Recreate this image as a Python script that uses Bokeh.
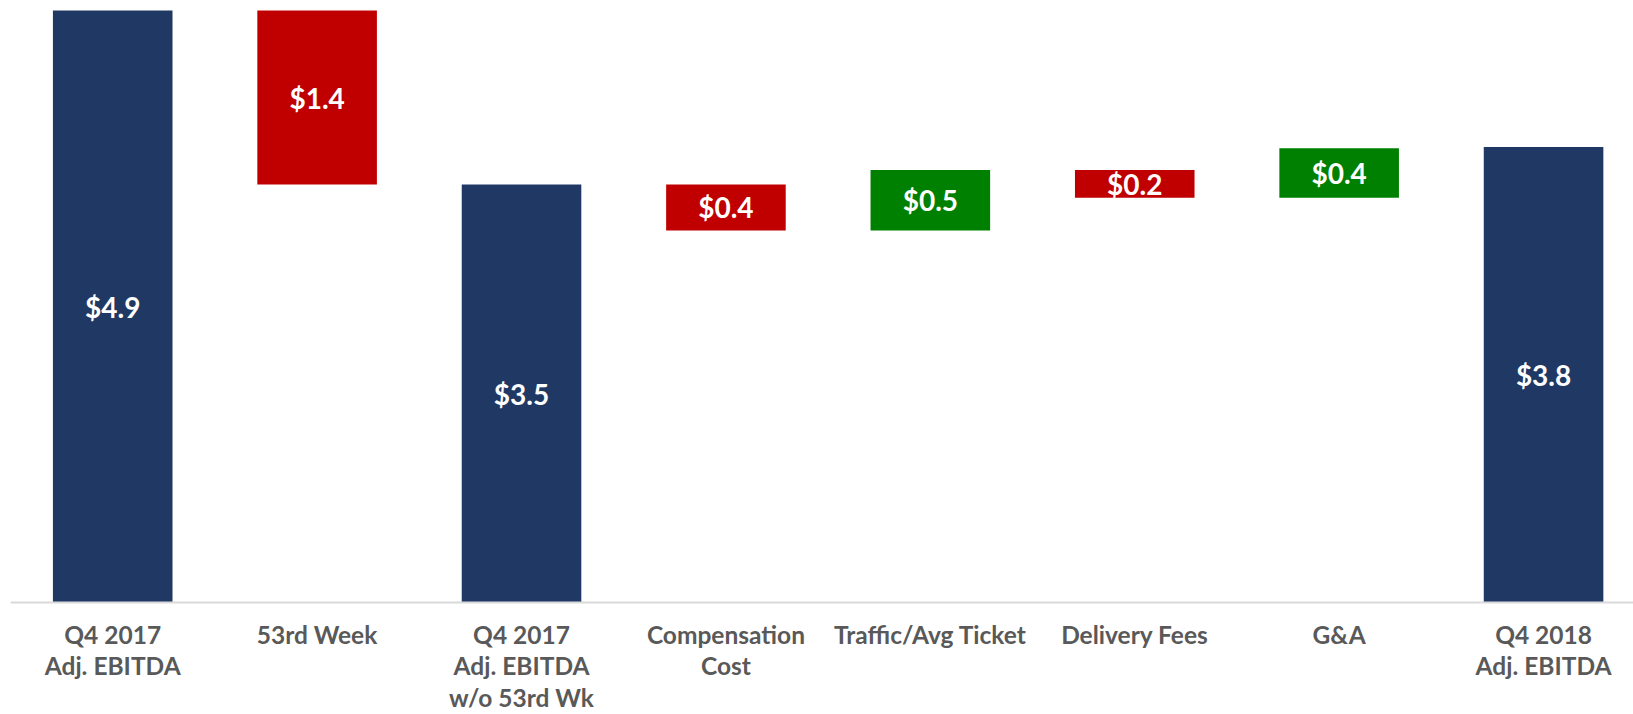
from bokeh.plotting import figure
from bokeh.models import ColumnDataSource, Range1d, Span
from bokeh.core.properties import value
from bokeh.embed import file_html
from bokeh.resources import INLINE

categories = ["Q4 2017\nAdj. EBITDA", "53rd Week", "Q4 2017\nAdj. EBITDA\nw/o 53rd Wk",
              "Compensation\nCost", "Traffic/Avg Ticket", "Delivery Fees", "G&A",
              "Q4 2018\nAdj. EBITDA"]
values = [4.9, -1.44, 3.46, -0.38, 0.50, -0.23, 0.41, 3.77]
kinds = ["total", "delta", "total", "delta", "delta", "delta", "delta", "total"]

NAVY = "#203864"
RED = "#C00000"
GREEN = "#008000"

xs, bottoms, tops, colors, labels = [], [], [], [], []
running = 0.0
for i, (v, k) in enumerate(zip(values, kinds)):
    xs.append(i + 0.5)
    if k == "total":
        bottoms.append(0.0)
        tops.append(v)
        colors.append(NAVY)
        running = v
    else:
        nxt = running + v
        bottoms.append(min(running, nxt))
        tops.append(max(running, nxt))
        colors.append(GREEN if v > 0 else RED)
        running = nxt
    labels.append("$" + f"{abs(v):.1f}")

src = ColumnDataSource(dict(x=xs, bottom=bottoms, top=tops, color=colors,
                            mid=[(b + t) / 2 for b, t in zip(bottoms, tops)],
                            label=labels, cat=categories, zero=[0.0] * len(xs)))

W, H = 1633, 714
p = figure(width=W, height=H, output_backend="svg", toolbar_location=None,
           x_range=Range1d(0, 7.94), y_range=Range1d(-0.927, 4.983),
           min_border_left=10, min_border_right=0, min_border_top=0, min_border_bottom=0)
p.axis.visible = False
p.grid.visible = False
p.outline_line_color = None
p.background_fill_color = "white"

p.vbar(x="x", bottom="bottom", top="top", width=0.585, fill_color="color",
       line_color=None, source=src)

p.add_layout(Span(location=0, dimension="width", line_color="#d9d9d9", line_width=2))

p.text(x="x", y="mid", text="label", source=src, text_color="white",
       text_font=value("Lato"), text_font_style="bold", text_font_size="28px",
       text_align="center", text_baseline="middle")

p.text(x="x", y="zero", text="cat", source=src, text_color="#595959",
       text_font=value("Lato"), text_font_style="bold", text_font_size="24.5px",
       text_align="center", text_baseline="top", y_offset=17, text_line_height=1.09)

open("out.html", "w").write(file_html(p, INLINE))
